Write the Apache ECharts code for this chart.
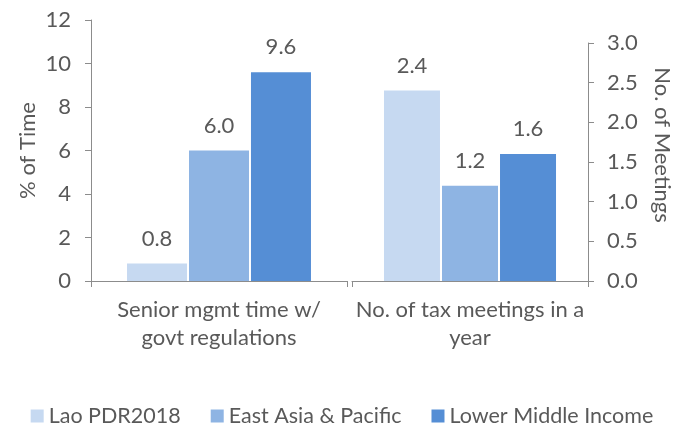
<!DOCTYPE html>
<html>
<head>
<meta charset="utf-8">
<script src="https://cdn.jsdelivr.net/npm/echarts@6/dist/echarts.min.js"></script>
<style>
html,body{margin:0;padding:0;background:#fff;}
#c{width:684px;height:424px;}
</style>
</head>
<body>
<div id="c"></div>
<script>
var categories = ['Senior mgmt time w/\ngovt regulations', 'No. of tax meetings in a\nyear'];
var seriesNames = ['Lao PDR2018', 'East Asia & Pacific', 'Lower Middle Income'];
var laoValues = [0.8, 2.4];
var eapValues = [6.0, 1.2];
var lmiValues = [9.6, 1.6];
var leftTicks = [0, 2, 4, 6, 8, 10, 12];
var rightTicks = [0.0, 0.5, 1.0, 1.5, 2.0, 2.5, 3.0];
var colors = ['#C6D9F1', '#8EB4E3', '#558ED5'];

var FONT = 'Lato';
var TXT = '#595959';
var AX = '#8c8c8c';
var FS = 22;
var allValues = [laoValues, eapValues, lmiValues];

function makeSeries(gridIdx, barW) {
  return seriesNames.map(function (n, i) {
    return {
      name: n,
      type: 'bar',
      xAxisIndex: gridIdx,
      yAxisIndex: gridIdx,
      data: [allValues[i][gridIdx]],
      barWidth: barW,
      barGap: (2 / barW * 100).toFixed(1) + '%',
      itemStyle: { color: colors[i] },
      label: {
        show: true, position: 'top', distance: 14,
        color: TXT, fontFamily: FONT, fontSize: FS,
        formatter: function (p) { return p.value.toFixed(1); }
      }
    };
  });
}

var chart = echarts.init(document.getElementById('c'));
chart.setOption({
  animation: false,
  textStyle: { fontFamily: FONT },
  legend: {
    data: seriesNames,
    left: 'center', top: 400,
    icon: 'rect', itemWidth: 13, itemHeight: 13, itemGap: 30,
    textStyle: { color: TXT, fontSize: 21.5, fontFamily: FONT }
  },
  grid: [
    { left: 91, right: 337, top: 20, bottom: 143 },
    { left: 352, right: 96, top: 43, bottom: 143 }
  ],
  xAxis: [0, 1].map(function (g) {
    return {
      type: 'category', gridIndex: g, data: [categories[g]],
      axisLine: { lineStyle: { color: AX, width: 1 } },
      axisTick: { show: true, length: 6, lineStyle: { color: AX } },
      axisLabel: { color: TXT, fontSize: FS, fontFamily: FONT, margin: 15, lineHeight: 28 }
    };
  }),
  yAxis: [
    {
      type: 'value', gridIndex: 0, min: leftTicks[0], max: leftTicks[leftTicks.length - 1], interval: 2,
      position: 'left',
      name: '% of Time', nameLocation: 'middle', nameGap: 52, nameRotate: 90,
      nameTextStyle: { color: TXT, fontSize: FS, fontFamily: FONT },
      axisLine: { show: true, lineStyle: { color: AX } },
      axisTick: { show: true, length: 6, lineStyle: { color: AX } },
      splitLine: { show: false },
      axisLabel: { color: TXT, fontSize: FS, fontFamily: FONT, margin: 20 }
    },
    {
      type: 'value', gridIndex: 1, min: rightTicks[0], max: rightTicks[rightTicks.length - 1], interval: 0.5,
      position: 'right',
      name: 'No. of Meetings', nameLocation: 'middle', nameGap: 63, nameRotate: -90,
      nameTextStyle: { color: TXT, fontSize: FS, fontFamily: FONT, padding: [0, 34, 0, 0] },
      axisLine: { show: true, lineStyle: { color: AX } },
      axisTick: { show: true, length: 6, lineStyle: { color: AX } },
      splitLine: { show: false },
      axisLabel: { color: TXT, fontSize: FS, fontFamily: FONT, margin: 19,
        formatter: function (v) { return v.toFixed(1); } }
    }
  ],
  series: makeSeries(0, 60).concat(makeSeries(1, 56))
});
</script>
</body>
</html>
